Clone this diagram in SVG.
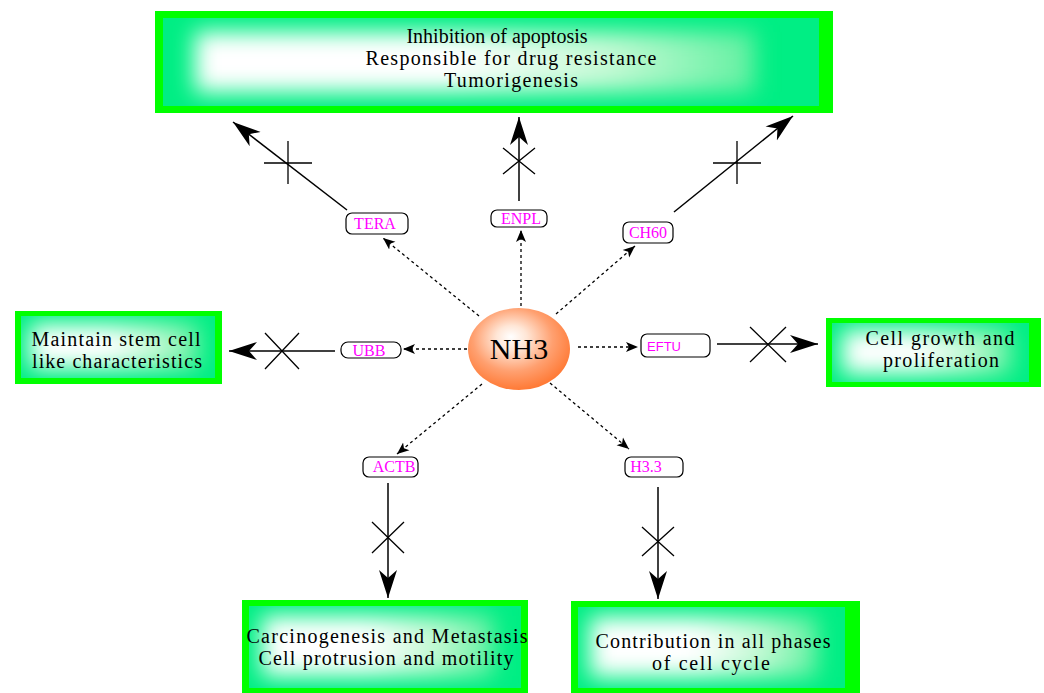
<svg xmlns="http://www.w3.org/2000/svg" width="1044" height="693" viewBox="0 0 1044 693">
<style>
.bt{font-family:"Liberation Serif","Times New Roman",serif;font-size:20px;fill:#000;text-anchor:middle}
.lt{font-family:"Liberation Serif","Times New Roman",serif;font-size:16px;fill:#ff00ff;text-anchor:middle}
.sn{fill:#fff;stroke:#000;stroke-width:1.2}
.dot{fill:none;stroke:#000;stroke-width:1.3;stroke-dasharray:3,3;marker-end:url(#sa)}
.sol{fill:none;stroke:#000;stroke-width:1.5;marker-end:url(#ba)}
.x{fill:none;stroke:#000;stroke-width:1.3}
.outer{fill:#00ff00}
.inner{fill:#00ee84}
.core{fill:url(#wg);filter:url(#soft)}
</style>
<defs>
<linearGradient id="wg" x1="0" y1="0" x2="1" y2="0">
<stop offset="0" stop-color="#ffffff"/>
<stop offset="0.45" stop-color="#ffffff"/>
<stop offset="0.75" stop-color="#c0f9d2"/>
<stop offset="1" stop-color="#60f0a0"/>
</linearGradient>
<filter id="soft" x="-0.3" y="-0.6" width="1.6" height="2.2">
<feGaussianBlur stdDeviation="11"/>
</filter>
<radialGradient id="og" cx="0.45" cy="0.4" r="0.6" fx="0.42" fy="0.35">
<stop offset="0" stop-color="#ffffff"/>
<stop offset="0.25" stop-color="#ffe6d6"/>
<stop offset="0.65" stop-color="#ffa070"/>
<stop offset="1" stop-color="#ff7a36"/>
</radialGradient>
<marker id="ba" markerUnits="userSpaceOnUse" markerWidth="32" markerHeight="22" refX="28" refY="10" orient="auto" viewBox="0 0 32 22">
<path d="M28,10 L0,1 L8,10 L0,19 Z" fill="#000"/>
</marker>
<marker id="sa" markerUnits="userSpaceOnUse" markerWidth="14" markerHeight="12" refX="12" refY="6" orient="auto" viewBox="0 0 14 12">
<path d="M12,6 L0,1 L3,6 L0,11 Z" fill="#000"/>
</marker>
<clipPath id="c1"><rect x="163" y="18" width="656" height="88"/></clipPath>
<clipPath id="c2"><rect x="21" y="316" width="194" height="62"/></clipPath>
<clipPath id="c3"><rect x="832" y="323" width="197" height="59"/></clipPath>
<clipPath id="c4"><rect x="249" y="606" width="272" height="82"/></clipPath>
<clipPath id="c5"><rect x="578" y="607" width="267" height="81"/></clipPath>
</defs>

<g id="connectors">
<line class="dot" x1="479" y1="316" x2="383" y2="238"/>
<line class="dot" x1="521" y1="306" x2="521" y2="230"/>
<line class="dot" x1="556" y1="314" x2="635" y2="246"/>
<line class="dot" x1="467" y1="349" x2="403" y2="349"/>
<line class="dot" x1="578" y1="347" x2="638" y2="347"/>
<line class="dot" x1="482" y1="384" x2="397" y2="454"/>
<line class="dot" x1="550" y1="383" x2="629" y2="449"/>
<line class="sol" x1="347" y1="210" x2="233" y2="122"/>
<line class="sol" x1="519" y1="201" x2="519" y2="117"/>
<line class="sol" x1="674" y1="212" x2="793" y2="116"/>
<line class="sol" x1="335" y1="351" x2="229" y2="351"/>
<line class="sol" x1="717" y1="344" x2="818" y2="344"/>
<line class="sol" x1="388" y1="483" x2="388" y2="598"/>
<line class="sol" x1="658" y1="487" x2="658" y2="599"/>
<path class="x" d="M264,163 H312 M288,141 V184"/>
<path class="x" d="M503,148 L535,174 M535,148 L503,174"/>
<path class="x" d="M713,163 H761 M737,141 V184"/>
<path class="x" d="M265,333 L299,369 M299,333 L265,369"/>
<path class="x" d="M750,327 L786,362 M786,327 L750,362"/>
<path class="x" d="M372,522 L404,553 M404,522 L372,553"/>
<path class="x" d="M642,527 L674,556 M674,527 L642,556"/>
</g>

<g id="box-top">
<rect class="outer" x="155" y="11" width="678" height="102"/>
<rect class="inner" x="163" y="18" width="656" height="88"/>
<g clip-path="url(#c1)"><rect class="core" x="195" y="32" width="560" height="60"/></g>
<text class="bt" x="497" y="43">Inhibition of apoptosis</text>
<text class="bt" x="511" y="65" textLength="291" lengthAdjust="spacing">Responsible for drug resistance</text>
<text class="bt" x="511" y="87" textLength="134" lengthAdjust="spacing">Tumorigenesis</text>
</g>

<g id="box-left">
<rect class="outer" x="15" y="311" width="207" height="73"/>
<rect class="inner" x="21" y="316" width="194" height="62"/>
<g clip-path="url(#c2)"><rect class="core" x="30" y="324" width="170" height="44"/></g>
<text class="bt" x="116" y="346" textLength="169" lengthAdjust="spacing">Maintain stem cell</text>
<text class="bt" x="117" y="368" textLength="170" lengthAdjust="spacing">like characteristics</text>
</g>

<g id="box-right">
<rect class="outer" x="826" y="318" width="215" height="69"/>
<rect class="inner" x="832" y="323" width="197" height="59"/>
<g clip-path="url(#c3)"><rect class="core" x="842" y="330" width="170" height="44"/></g>
<text class="bt" x="940" y="345" textLength="149" lengthAdjust="spacing">Cell growth and</text>
<text class="bt" x="941" y="367" textLength="116" lengthAdjust="spacing">proliferation</text>
</g>

<g id="box-bottom-left">
<rect class="outer" x="242" y="600" width="286" height="93"/>
<rect class="inner" x="249" y="606" width="272" height="82"/>
<g clip-path="url(#c4)"><rect class="core" x="262" y="616" width="232" height="60"/></g>
<text class="bt" x="387" y="643" textLength="281" lengthAdjust="spacing">Carcinogenesis and Metastasis</text>
<text class="bt" x="386" y="665" textLength="255" lengthAdjust="spacing">Cell protrusion and motility</text>
</g>

<g id="box-bottom-right">
<rect class="outer" x="571" y="601" width="289" height="92"/>
<rect class="inner" x="578" y="607" width="267" height="81"/>
<g clip-path="url(#c5)"><rect class="core" x="590" y="617" width="228" height="60"/></g>
<text class="bt" x="713" y="648" textLength="235" lengthAdjust="spacing">Contribution in all phases</text>
<text class="bt" x="711" y="670" textLength="118" lengthAdjust="spacing">of cell cycle</text>
</g>

<g id="NH3">
<ellipse cx="519" cy="349" rx="51" ry="41" fill="url(#og)"/>
<text x="519" y="359" font-family="Liberation Serif, Times New Roman, serif" font-size="30" text-anchor="middle" fill="#000">NH3</text>
</g>

<g id="TERA">
<rect class="sn" x="346" y="213" width="62" height="21" rx="6"/>
<text class="lt" x="375" y="229">TERA</text>
</g>
<g id="ENPL">
<rect class="sn" x="491" y="210" width="56" height="17" rx="6"/>
<text class="lt" x="521" y="224">ENPL</text>
</g>
<g id="CH60">
<rect class="sn" x="623" y="222" width="50" height="21" rx="6"/>
<text class="lt" x="648" y="238">CH60</text>
</g>
<g id="UBB">
<rect class="sn" x="341" y="342" width="60" height="16" rx="7"/>
<text class="lt" x="369" y="356">UBB</text>
</g>
<g id="EFTU">
<rect class="sn" x="641" y="334" width="69" height="23" rx="6"/>
<text class="lt" x="664" y="351" style="font-family:'Liberation Sans',Arial,sans-serif;font-size:13px">EFTU</text>
</g>
<g id="ACTB">
<rect class="sn" x="363" y="457" width="55" height="20" rx="6"/>
<text class="lt" x="394" y="472">ACTB</text>
</g>
<g id="H3.3">
<rect class="sn" x="625" y="457" width="58" height="20" rx="6"/>
<text class="lt" x="646" y="472">H3.3</text>
</g>
</svg>
